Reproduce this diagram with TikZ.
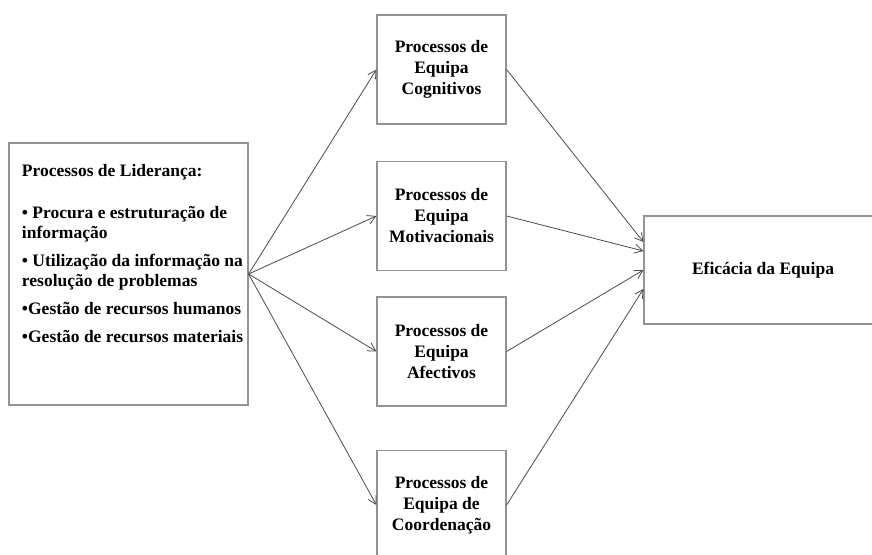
\documentclass[tikz,border=0pt]{standalone}
\usepackage{fontspec}
\setmainfont{Liberation Serif}
\usetikzlibrary{arrows.meta}
\tikzset{
    pbox/.style={draw=gray!85, line width=1.2pt, minimum width=129pt, minimum height=109pt,
        align=center, inner sep=2pt, font=\fontsize{17.5}{21}\selectfont\bfseries},
    lbox/.style={draw=gray!85, line width=1.2pt, inner sep=0pt},
    arr/.style={-{Straight Barb[length=8pt,width=9pt]}, gray!60!black, line width=0.8pt}
}
\begin{document}
\begin{tikzpicture}[x=1pt, y=-1pt]
                \path[use as bounding box, fill=white] (0,0) rectangle (872,554);
                % Leadership box
                \node[lbox] (lider) at (128.5,274) {\parbox[c][262pt][t]{239pt}{%
                    \fontsize{17.5}{20}\selectfont\bfseries\raggedright\leftskip=13pt
                    \vspace*{21pt}\mbox{Processos de Liderança:}\\[22pt]
                    \mbox{• Procura e estruturação de}\\ \mbox{informação}\\[8pt]
                    \mbox{• Utilização da informação na}\\ \mbox{resolução de problemas}\\[8pt]
                    \mbox{•Gestão de recursos humanos}\\[8pt]
                    \mbox{•Gestão de recursos materiais}}};
                % Team process boxes
                \node[pbox] (cogn)  at (441.5,69.5)  {Processos de\\Equipa\\Cognitivos};
                \node[pbox] (motiv) at (441.5,216)   {Processos de\\Equipa\\Motivacionais};
                \node[pbox] (afect) at (441.5,351.5) {Processos de\\Equipa\\Afectivos};
                \node[pbox] (coord) at (441.5,505)   {Processos de\\Equipa de\\Coordenação};
                % Outcome box
                \node[pbox, minimum width=238pt, minimum height=108pt] (efic) at (763,270) {Eficácia da Equipa};
                % Connectors
                \foreach \b in {cogn, motiv, afect, coord}
                    \draw[arr] (lider.east) -- (\b.west);
                \foreach \b/\d in {cogn/28, motiv/19, afect/0, coord/-19}
                    \draw[arr] (\b.east) -- ([yshift=\d pt]efic.west);
\end{tikzpicture}
\end{document}
